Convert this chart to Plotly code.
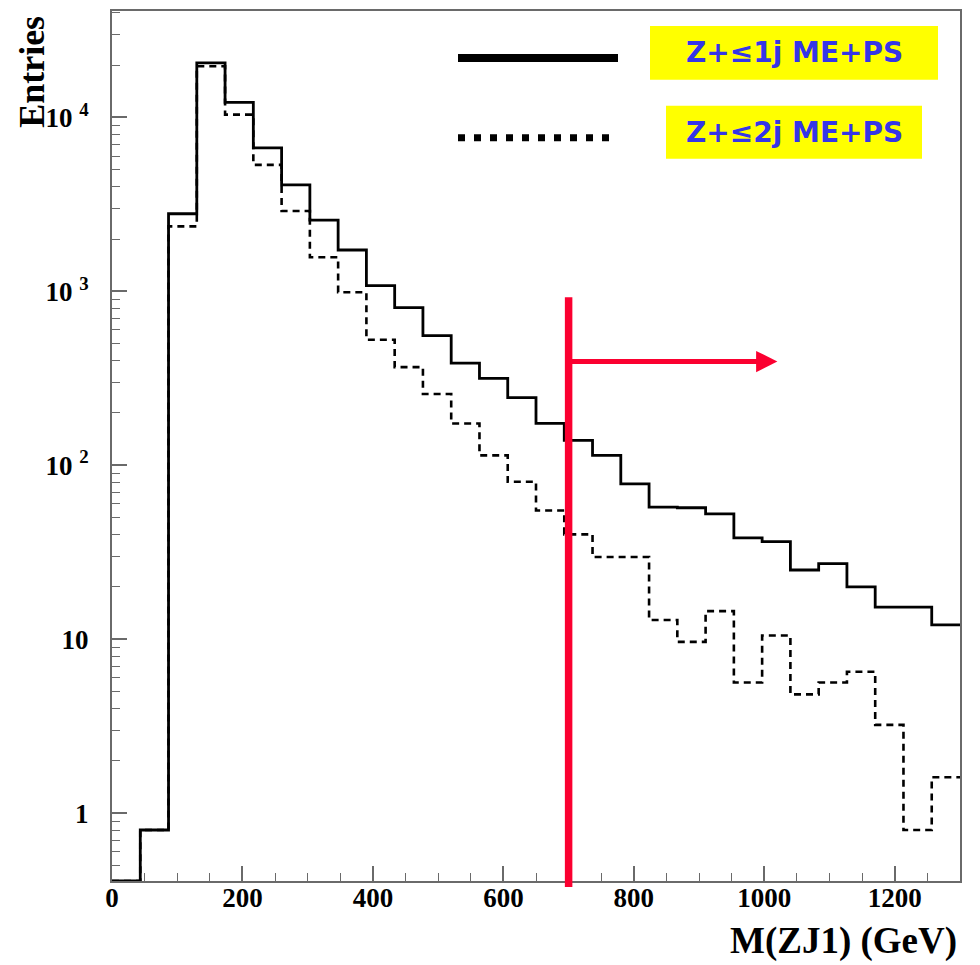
import numpy as np
import plotly.graph_objects as go

# ---------------- data ----------------
x_min, x_max, n_bins = 0, 1300, 30
# Z + <=1 jet ME+PS (solid)
entries_1j = [0, 0.8, 2795, 20620, 12220, 6680, 4100, 2570, 1729, 1080,
              807, 557, 387, 316, 245, 174, 139, 114, 78.2, 57.5,
              57.0, 52.6, 38.3, 36.4, 25.0, 27.2, 20.0, 15.3, 15.3, 12.1]
# Z + <=2 jet ME+PS (dashed)
entries_2j = [0, 0.8, 2365, 19680, 10380, 5340, 2897, 1570, 988, 527,
              367, 257, 174, 114, 80.4, 55.0, 40.1, 29.7, 29.7, 12.9,
              9.66, 14.5, 5.64, 10.5, 4.82, 5.64, 6.50, 3.22, 0.80, 1.61]
series_names = ["Z+≤1j ME+PS", "Z+≤2j ME+PS"]
cut_value = 700
arrow_end = 1020
x_tickvals = [0, 200, 400, 600, 800, 1000, 1200]
y_tickvals = [1, 10, 100, 1000, 10000]
y_ticktext = ["1", "10", "10 <sup>2</sup>", "10 <sup>3</sup>", "10 <sup>4</sup>"]
y_log_range = [-0.39, 4.612]

# ---------------- geometry helpers ----------------
W, H = 980, 965
L, R, T, B = 112, 960, 9, 881


def px_x(p):
    return (p - L) / (R - L)


def px_y(p):
    return (B - p) / (B - T)


edges = np.linspace(x_min, x_max, n_bins + 1)
floor = 10 ** y_log_range[0]


def hist_xy(vals):
    v = [val if val > 0 else floor for val in vals]
    xs = list(edges)
    ys = v + [v[-1]]
    return xs, ys


fig = go.Figure()
xs1, ys1 = hist_xy(entries_1j)
xs2, ys2 = hist_xy(entries_2j)
fig.add_trace(go.Scatter(x=xs2, y=ys2, mode="lines", line_shape="hv",
                         line=dict(color="black", width=2.6, dash="7px,5px"),
                         name=series_names[1], showlegend=False))
fig.add_trace(go.Scatter(x=xs1, y=ys1, mode="lines", line_shape="hv",
                         line=dict(color="black", width=2.8),
                         name=series_names[0], showlegend=False))

serif = "Liberation Serif"
axis_col = "#6a6a6a"

fig.update_layout(
    width=W, height=H,
    margin=dict(l=L, r=W - R, t=T, b=H - B),
    paper_bgcolor="white", plot_bgcolor="white",
    showlegend=False,
    xaxis=dict(range=[x_min, x_max], tickvals=x_tickvals,
               ticks="inside", ticklen=15, tickwidth=1.5, tickcolor=axis_col,
               showline=True, linecolor=axis_col, linewidth=2, mirror=True,
               showgrid=False, zeroline=False, ticklabelstandoff=-8,
               tickfont=dict(family=serif, size=27, color="black", weight="bold"),
               minor=dict(dtick=50, ticks="inside", ticklen=8, tickwidth=1.2,
                          tickcolor=axis_col, showgrid=False)),
    yaxis=dict(type="log", range=y_log_range, tickvals=y_tickvals, ticktext=y_ticktext,
               ticks="inside", ticklen=15, tickwidth=1.5, tickcolor=axis_col,
               showline=True, linecolor=axis_col, linewidth=2, mirror=True,
               showgrid=False, zeroline=False, ticklabelstandoff=16,
               tickfont=dict(family=serif, size=27, color="black", weight="bold"),
               minor=dict(dtick="D1", ticks="inside", ticklen=8, tickwidth=1.2,
                          tickcolor=axis_col, showgrid=False)),
)

shapes = []
# red cut line
shapes.append(dict(type="line", xref="x", yref="paper", x0=cut_value, x1=cut_value,
                   y0=px_y(887), y1=px_y(296), line=dict(color="#fb0030", width=7.5)))
# legend line samples
shapes.append(dict(type="line", xref="paper", yref="paper", x0=px_x(458), x1=px_x(618),
                   y0=px_y(56), y1=px_y(56), line=dict(color="black", width=8)))
shapes.append(dict(type="line", xref="paper", yref="paper", x0=px_x(458), x1=px_x(614),
                   y0=px_y(136), y1=px_y(136), line=dict(color="black", width=7, dash="7px,9px")))
# yellow label boxes
shapes.append(dict(type="rect", xref="paper", yref="paper", x0=px_x(650), x1=px_x(938),
                   y0=px_y(78), y1=px_y(24), fillcolor="#ffff00", line=dict(width=0), layer="below"))
shapes.append(dict(type="rect", xref="paper", yref="paper", x0=px_x(666), x1=px_x(922),
                   y0=px_y(157), y1=px_y(104), fillcolor="#ffff00", line=dict(width=0), layer="below"))
fig.update_layout(shapes=shapes)

label_font = dict(family="DejaVu Sans", size=28, color="#3535e8", weight="bold")
annotations = [
    dict(text=series_names[0], xref="paper", yref="paper", x=px_x(794), y=px_y(51),
         xanchor="center", yanchor="middle", showarrow=False, font=label_font),
    dict(text=series_names[1], xref="paper", yref="paper", x=px_x(794), y=px_y(131),
         xanchor="center", yanchor="middle", showarrow=False, font=label_font),
    # arrow
    dict(x=arrow_end, y=np.log10(395), ax=cut_value, ay=np.log10(395),
         xref="x", yref="y", axref="x", ayref="y", text="", showarrow=True,
         arrowhead=2, arrowsize=0.85, arrowwidth=5, arrowcolor="#fb0030"),
    # axis titles
    dict(text="Entries", xref="paper", yref="paper", x=px_x(32), y=px_y(70),
         xanchor="center", yanchor="middle", textangle=-90, showarrow=False,
         font=dict(family=serif, size=36, color="black", weight="bold")),
    dict(text="M(ZJ1) (GeV)", xref="paper", yref="paper", x=px_x(959), y=px_y(941),
         xanchor="right", yanchor="middle", showarrow=False,
         font=dict(family=serif, size=37, color="black", weight="bold")),
]
fig.update_layout(annotations=annotations)

fig.write_html("out.html")
